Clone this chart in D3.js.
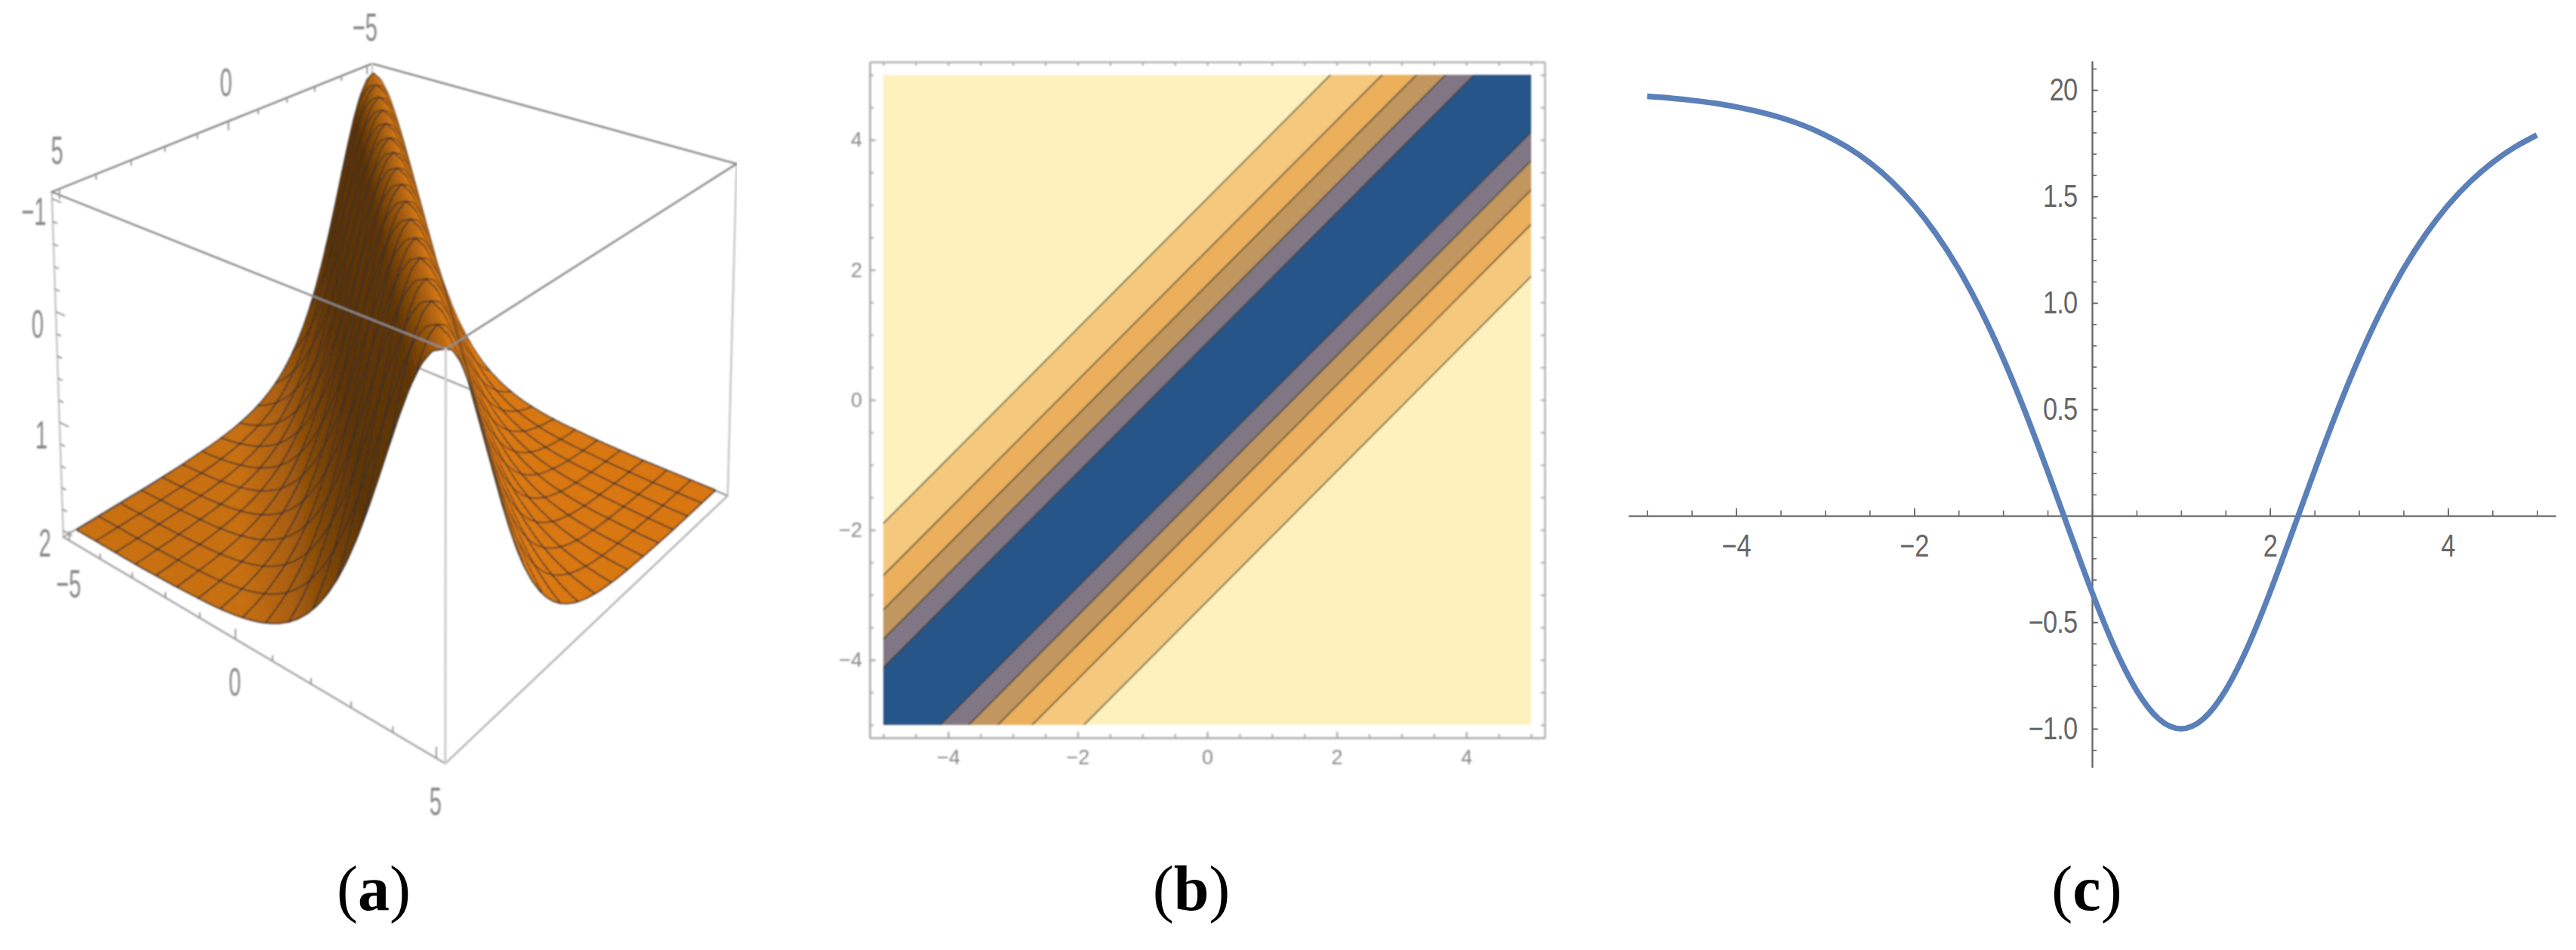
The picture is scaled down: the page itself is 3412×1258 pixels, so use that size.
<!DOCTYPE html>
<html>
<head>
<meta charset="utf-8">
<script src="https://cdn.jsdelivr.net/npm/d3@7"></script>
<style>
html, body { margin: 0; padding: 0; background: #fff; }
svg { display: block; }
</style>
</head>
<body>
<script>
// profile
var curveX = [-5, -4.75, -4.5, -4.25, -4, -3.75, -3.5, -3.25, -3, -2.75, -2.5, -2.25, -2, -1.75, -1.5, -1.25, -1, -0.75, -0.5, -0.25,
    0, 0.25, 0.5, 0.75, 1, 1.25, 1.5, 1.75, 2, 2.25, 2.5, 2.75, 3, 3.25, 3.5, 3.75, 4, 4.25, 4.5, 4.75, 5];
var curveY = [1.970, 1.962, 1.951, 1.938, 1.920, 1.898, 1.870, 1.834, 1.788, 1.731, 1.659, 1.569, 1.458, 1.322, 1.159, 0.965, 0.740, 0.486, 0.210, -0.077,
    -0.359, -0.615, -0.820, -0.954, -1, -0.954, -0.820, -0.615, -0.359, -0.077, 0.210, 0.486, 0.740, 0.965, 1.159, 1.322, 1.458, 1.569, 1.659, 1.731, 1.788];

// far tail of the same profile, used by the surface in panel (a)
var tailD = [6, 7, 8, 10];
var tailZ = [1.97, 1.99, 2, 2];

// panel (b): contour offsets from the diagonal, outer to inner, and their fills
var bandOffsets = [3.1, 2.3, 1.77, 1.32, 0.88];
var bandColors = ["#f5c97d", "#ecaf5b", "#c2965f", "#817784", "#25548a"];
var bandOutside = "#fdf1bd";

// panel (a) shading against signed distance from the ridge
var shadeD = [-10, -5, -3.6, -2.6, -1.8, -0.7, -0.2, 0.2, 1, 2, 4, 10];
var shadeColor = ["#c96f10", "#c66e10", "#a85c0a", "#7a4204", "#5c3200", "#603400", "#a05808", "#d0740e", "#e07d0f", "#dd7a0e", "#d9760e", "#d8750e"];

// tick labels
var cXLabels = {"-4": "\u22124", "-2": "\u22122", "2": "2", "4": "4"};
var cYLabels = {"-1": "\u22121.0", "-0.5": "\u22120.5", "0.5": "0.5", "1": "1.0", "1.5": "1.5", "2": "20"};
var bTicksMajor = [-4, -2, 0, 2, 4];
var bTicksLabel = ["\u22124", "\u22122", "0", "2", "4"];
var aAxisTicks = [-5, 0, 5];
var bAxisTicks = [-5, 0, 5];
var zAxisTicks = [-1, 0, 1, 2];
var aAxisText = ["\u22125", "0", "5"];
var bAxisText = ["\u22125", "0", "5"];
var zAxisText = ["\u22121", "0", "1", "2"];
var captions = ["a", "b", "c"];

var width = 3412, height = 1258;
var svg = d3.select("body").append("svg").attr("width", width).attr("height", height)
    .style("font-family", "'Liberation Sans', sans-serif");
svg.append("rect").attr("width", width).attr("height", height).attr("fill", "#fff");

var defs = svg.append("defs");
defs.append("filter").attr("id", "soft").attr("x", 0).attr("y", 0).attr("width", 1).attr("height", 1)
    .attr("filterUnits", "objectBoundingBox")
    .append("feGaussianBlur").attr("stdDeviation", 0.9);

// ---- panel (a), projected box. Screen spots of the box corners fix the camera ----
var aScale = d3.scaleLinear().domain([-5.2, 5.2]).range([0, 1]);
var bScale = d3.scaleLinear().domain([-5.2, 5.2]).range([0, 1]);
var zScale = d3.scaleLinear().domain([-1.06, 2.06]).range([0, 1]);
var boxCorners = [
    [0, 0, 0, 492, 83], [0, 1, 0, 69, 256], [1, 0, 0, 975, 216], [1, 1, 0, 592, 463],
    [0, 0, 1, 497, 465], [0, 1, 1, 82, 708], [1, 0, 1, 963, 656], [1, 1, 1, 590, 1012]
];

function solveCamera(pts) {
    // least squares for the 11 projective terms, p[11] = 1
    var rows = [], rhs = [];
    pts.forEach(function(p) {
        rows.push([p[0], p[1], p[2], 1, 0, 0, 0, 0, -p[3] * p[0], -p[3] * p[1], -p[3] * p[2]]); rhs.push(p[3]);
        rows.push([0, 0, 0, 0, p[0], p[1], p[2], 1, -p[4] * p[0], -p[4] * p[1], -p[4] * p[2]]); rhs.push(p[4]);
    });
    var n = 11, m = [];
    for (var i = 0; i < n; i++) {
        m.push([]);
        for (var j = 0; j < n; j++) m[i].push(d3.sum(rows, function(r) { return r[i] * r[j]; }));
        m[i].push(d3.sum(rows, function(r, k) { return r[i] * rhs[k]; }));
    }
    for (var c = 0; c < n; c++) {
        var piv = c;
        for (var r = c + 1; r < n; r++) if (Math.abs(m[r][c]) > Math.abs(m[piv][c])) piv = r;
        var t = m[c]; m[c] = m[piv]; m[piv] = t;
        for (var r2 = 0; r2 < n; r2++) {
            if (r2 == c) continue;
            var f = m[r2][c] / m[c][c];
            for (var k = c; k <= n; k++) m[r2][k] -= f * m[c][k];
        }
    }
    return m.map(function(row, i) { return row[n] / row[i]; });
}
var cam = solveCamera(boxCorners);

function project(a, b, z) {
    var u = aScale(a), v = bScale(b), w = zScale(z);
    var d = cam[8] * u + cam[9] * v + cam[10] * w + 1;
    return [(cam[0] * u + cam[1] * v + cam[2] * w + cam[3]) / d, (cam[4] * u + cam[5] * v + cam[6] * w + cam[7]) / d, d];
}

var profileD = curveX.filter(function(x) { return x <= 1; }).map(function(x) { return 1 - x; }).reverse();
var profileZ = curveY.filter(function(y, i) { return curveX[i] <= 1; }).reverse();
var heightAt = d3.scaleLinear()
    .domain(profileD.concat(tailD.slice(1)))
    .range(profileZ.concat(tailZ.slice(1)))
    .clamp(true);
var shade = d3.scaleLinear().domain(shadeD).range(shadeColor).clamp(true);

var panelA = svg.append("g").attr("filter", "url(#soft)");
var amin = aScale.domain()[0], amax = aScale.domain()[1];
var bmin = bScale.domain()[0], bmax = bScale.domain()[1];
var ztop = zScale.domain()[0], zbot = zScale.domain()[1];

function boxEdge(g, p, q, color, w) {
    var a = project.apply(null, p), b = project.apply(null, q);
    g.append("line").attr("x1", a[0]).attr("y1", a[1]).attr("x2", b[0]).attr("y2", b[1])
        .attr("stroke", color).attr("stroke-width", w).attr("stroke-linecap", "round");
}
// edges behind the surface
boxEdge(panelA, [amin, bmin, ztop], [amin, bmax, ztop], "#8c8c8c", 2.6);
boxEdge(panelA, [amin, bmin, ztop], [amax, bmin, ztop], "#8c8c8c", 2.6);
boxEdge(panelA, [amin, bmin, zbot], [amax, bmin, zbot], "#999", 2.2);
boxEdge(panelA, [amin, bmin, zbot], [amin, bmax, zbot], "#999", 2.2);
boxEdge(panelA, [amin, bmin, ztop], [amin, bmin, zbot], "#ccc", 2.6);
boxEdge(panelA, [amax, bmin, ztop], [amax, bmin, zbot], "#c8c8c8", 2.6);
boxEdge(panelA, [amin, bmax, ztop], [amin, bmax, zbot], "#c8c8c8", 2.6);

// surface cells, far ones first
var N = 128, meshEvery = 8;
var gridValue = d3.scaleLinear().domain([0, N]).range([-5, 5]);
function node(i, j) {
    var a = gridValue(i), b = gridValue(j);
    return project(a, b, heightAt(Math.abs(a - b)));
}
var pathLine = d3.line();
var items = [];
d3.range(N).forEach(function(i) {
    d3.range(N).forEach(function(j) {
        var p00 = node(i, j), p10 = node(i + 1, j), p11 = node(i + 1, j + 1), p01 = node(i, j + 1);
        var depth = (p00[2] + p10[2] + p11[2] + p01[2]) / 4;
        var d = gridValue(i + 0.5) - gridValue(j + 0.5);
        items.push({depth: depth, order: 0, d: pathLine([p00, p10, p11, p01]) + "Z", fill: shade(d), mesh: false});
        var parts = [];
        if (i % meshEvery == 0) parts.push(pathLine([p00, p01]));
        if (j % meshEvery == 0) parts.push(pathLine([p00, p10]));
        if (i == N - 1) parts.push(pathLine([p10, p11]));
        if (j == N - 1) parts.push(pathLine([p01, p11]));
        if (parts.length) items.push({depth: depth, order: 1, d: parts.join(""), fill: "none", mesh: true});
    });
});
items.sort(function(x, y) { return d3.descending(x.depth, y.depth) || x.order - y.order; });
panelA.append("g").selectAll("path").data(items).join("path")
    .attr("d", function(d) { return d.d; })
    .attr("fill", function(d) { return d.fill; })
    .attr("stroke", function(d) { return d.mesh ? "#303030" : d.fill; })
    .attr("stroke-opacity", function(d) { return d.mesh ? 0.85 : 1; })
    .attr("stroke-width", function(d) { return d.mesh ? 2 : 0.7; });

// edges in front of the surface
boxEdge(panelA, [amin, bmax, ztop], [amax, bmax, ztop], "#8c8c8c", 2.6);
boxEdge(panelA, [amax, bmin, ztop], [amax, bmax, ztop], "#8c8c8c", 2.6);
boxEdge(panelA, [amin, bmax, zbot], [amax, bmax, zbot], "#a8a8a8", 2.6);
boxEdge(panelA, [amax, bmin, zbot], [amax, bmax, zbot], "#b4b4b4", 2.6);
boxEdge(panelA, [amax, bmax, ztop], [amax, bmax, zbot], "#cfcfcf", 3.2);

// box ticks
function boxTicks(g, values, majors, from, to) {
    g.append("g").selectAll("line").data(values).join("line")
        .each(function(v) {
            var long = majors.indexOf(v) >= 0;
            var p = from(v), q = to(v, long);
            d3.select(this).attr("x1", p[0]).attr("y1", p[1]).attr("x2", q[0]).attr("y2", q[1]);
        })
        .attr("stroke", "#9a9a9a").attr("stroke-width", 2);
}
boxTicks(panelA, d3.range(-5, 5.5, 1), aAxisTicks,
    function(v) { return project(v, bmax, zbot); },
    function(v, long) { return project(v, bmax, zbot - (long ? 0.09 : 0.05)); });
boxTicks(panelA, d3.range(-5, 5.5, 1), bAxisTicks,
    function(v) { return project(amin, v, ztop); },
    function(v, long) { return project(amin, v, ztop + (long ? 0.09 : 0.05)); });
boxTicks(panelA, d3.range(-10, 21, 2).map(function(v) { return v / 10; }), zAxisTicks,
    function(v) { return project(amin, bmax, v); },
    function(v, long) { return project(amin + (long ? 0.3 : 0.15), bmax, v); });

function boxLabels(g, values, text, where, dx, dy) {
    g.append("g").selectAll("text").data(values).join("text")
        .attr("transform", function(v) {
            var p = where(v);
            return "translate(" + (p[0] + dx) + "," + (p[1] + dy) + ") scale(0.56,1)";
        })
        .attr("text-anchor", "middle").attr("dy", "0.36em")
        .attr("font-size", 52).attr("fill", "#888")
        .text(function(v, i) { return text[i]; });
}
boxLabels(panelA, aAxisTicks, aAxisText, function(v) { return project(v, bmax, zbot); }, -1, 56);
boxLabels(panelA, bAxisTicks, bAxisText, function(v) { return project(amin, v, ztop); }, -3, -52);
boxLabels(panelA, zAxisTicks, zAxisText, function(v) { return project(amin, bmax, v); }, -24, 16);

// ---- panel (b), contour bands ----
var bx = d3.scaleLinear().domain([-5.21, 5.21]).range([1152, 2046]);
var by = d3.scaleLinear().domain([-5.2, 5.2]).range([977, 82]);
var panelB = svg.append("g").attr("filter", "url(#soft)");
defs.append("clipPath").attr("id", "bClip").append("rect")
    .attr("x", bx(-5)).attr("y", by(5)).attr("width", bx(5) - bx(-5)).attr("height", by(-5) - by(5));
var bandsG = panelB.append("g").attr("clip-path", "url(#bClip)");
bandsG.append("rect").attr("x", bx(-5)).attr("y", by(5)).attr("width", bx(5) - bx(-5)).attr("height", by(-5) - by(5))
    .attr("fill", bandOutside);
var bandLine = d3.line().x(function(p) { return bx(p[0]); }).y(function(p) { return by(p[1]); });
bandsG.selectAll("path").data(bandOffsets).join("path")
    .attr("d", function(d) {
        return bandLine([[-7, -7 + d], [7, 7 + d], [7, 7 - d], [-7, -7 - d]]) + "Z";
    })
    .attr("fill", function(d, i) { return bandColors[i]; })
    .attr("stroke", "#3c3c30").attr("stroke-opacity", 0.85).attr("stroke-width", 1.8);

var bAllTicks = d3.range(-5, 5.25, 0.5);
function frameAxis(gen, tx, ty) {
    var g = panelB.append("g").attr("transform", "translate(" + tx + "," + ty + ")").call(gen);
    g.selectAll("path,line").attr("stroke", "#b0b0b0").attr("stroke-width", 2.4);
    return g;
}
var noText = function() { return ""; };
// minors on all four sides, then the longer labelled ones
frameAxis(d3.axisBottom(bx).tickValues(bAllTicks).tickSizeInner(-5).tickSizeOuter(0).tickFormat(noText), 0, by.range()[0]);
frameAxis(d3.axisTop(bx).tickValues(bAllTicks).tickSizeInner(-5).tickSizeOuter(0).tickFormat(noText), 0, by.range()[1]);
frameAxis(d3.axisLeft(by).tickValues(bAllTicks).tickSizeInner(-5).tickSizeOuter(0).tickFormat(noText), bx.range()[0], 0);
frameAxis(d3.axisRight(by).tickValues(bAllTicks).tickSizeInner(-5).tickSizeOuter(0).tickFormat(noText), bx.range()[1], 0);
var bBottom = frameAxis(d3.axisBottom(bx).tickValues(bTicksMajor).tickSizeInner(-8).tickSizeOuter(0).tickPadding(16)
    .tickFormat(function(v, i) { return bTicksLabel[i]; }), 0, by.range()[0]);
var bLeft = frameAxis(d3.axisLeft(by).tickValues(bTicksMajor).tickSizeInner(-8).tickSizeOuter(0).tickPadding(10)
    .tickFormat(function(v, i) { return bTicksLabel[i]; }), bx.range()[0], 0);
[bBottom, bLeft].forEach(function(g) {
    g.selectAll("text").attr("font-size", 27).attr("font-family", "'Liberation Sans', sans-serif").attr("fill", "#8a8a8a");
});

// ---- panel (c), curve on centred axes ----
var cx = d3.scaleLinear().domain([-5.21, 5.21]).range([2157, 3385]);
var cy = d3.scaleLinear().domain([-1.181, 2.135]).range([1016, 81]);
var panelC = svg.append("g");
var cXAll = d3.range(-5, 5.25, 0.5);
var cYAll = d3.range(-11, 22, 1).map(function(v) { return v / 10; }).filter(function(v) { return v != 0; });

var cxMinor = panelC.append("g").attr("transform", "translate(0," + cy(0) + ")")
    .call(d3.axisTop(cx).tickValues(cXAll).tickSizeInner(7).tickSizeOuter(0).tickFormat(noText));
var cxMajor = panelC.append("g").attr("transform", "translate(0," + cy(0) + ")")
    .call(d3.axisBottom(cx).tickValues([-4, -2, 2, 4]).tickSizeInner(0).tickSizeOuter(0).tickPadding(24)
        .tickFormat(function(v) { return cXLabels[v]; }));
panelC.append("g").attr("transform", "translate(0," + cy(0) + ")")
    .call(d3.axisTop(cx).tickValues([-4, -2, 2, 4]).tickSizeInner(10).tickSizeOuter(0).tickFormat(noText));
var cyMinor = panelC.append("g").attr("transform", "translate(" + cx(0) + ",0)")
    .call(d3.axisRight(cy).tickValues(cYAll).tickSizeInner(6).tickSizeOuter(0).tickFormat(noText));
var cyMajor = panelC.append("g").attr("transform", "translate(" + cx(0) + ",0)")
    .call(d3.axisLeft(cy).tickValues([-1, -0.5, 0.5, 1, 1.5, 2]).tickSizeInner(0).tickSizeOuter(0)
        .tickFormat(function(v) { return cYLabels[v]; }));
panelC.append("g").attr("transform", "translate(" + cx(0) + ",0)")
    .call(d3.axisRight(cy).tickValues([-1, -0.5, 0.5, 1, 1.5, 2]).tickSizeInner(8).tickSizeOuter(0).tickFormat(noText));
panelC.selectAll("path.domain, line").attr("stroke", "#666").attr("stroke-width", 1.6);
cxMajor.selectAll("text").attr("font-size", 42).attr("font-family", "'Liberation Sans', sans-serif").attr("fill", "#666")
    .attr("transform", "scale(0.82,1)");
cyMajor.selectAll("text").attr("font-size", 42).attr("font-family", "'Liberation Sans', sans-serif").attr("fill", "#666")
    .attr("letter-spacing", -1).attr("x", -24).attr("transform", "scale(0.82,1)");

var cLine = d3.line().x(function(d) { return cx(d[0]); }).y(function(d) { return cy(d[1]); })
    .curve(d3.curveNatural);
panelC.append("path").datum(d3.zip(curveX, curveY))
    .attr("d", cLine).attr("fill", "none").attr("stroke", "#5b80b9").attr("stroke-width", 7.5);

// ---- captions ----
var captionX = [495, 1578, 2764];
var cap = svg.append("g").attr("font-family", "'Liberation Serif', serif").attr("font-size", 84).attr("fill", "#000");
captions.forEach(function(c, i) {
    var t = cap.append("text").attr("x", captionX[i]).attr("y", 1205).attr("text-anchor", "middle");
    t.append("tspan").text("(");
    t.append("tspan").attr("font-weight", "bold").text(c);
    t.append("tspan").text(")");
});
</script>
</body>
</html>
